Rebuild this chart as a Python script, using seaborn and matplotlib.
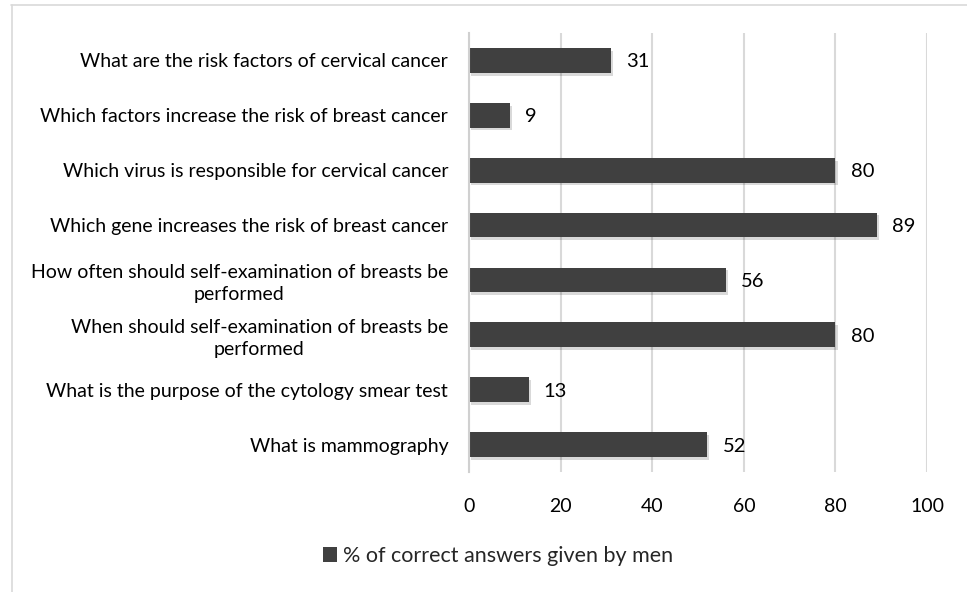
import matplotlib
matplotlib.use("Agg")
import matplotlib.pyplot as plt
import matplotlib.patheffects as pe
from matplotlib.lines import Line2D
from matplotlib.patches import Patch
import seaborn as sns
import pandas as pd

categories = [
    "What are the risk factors of cervical cancer",
    "Which factors increase the risk of breast cancer",
    "Which virus is responsible for cervical cancer",
    "Which gene increases the risk of breast cancer",
    "How often should self-examination of breasts be\nperformed",
    "When should self-examination of breasts be\nperformed",
    "What is the purpose of the cytology smear test",
    "What is mammography",
]
values = [31, 9, 80, 89, 56, 80, 13, 52]
series_name = "% of correct answers given by men"
xticks = [0, 20, 40, 60, 80, 100]

sns.set_theme(style="white")
plt.rcParams["font.family"] = ["Lato", "DejaVu Sans"]

df = pd.DataFrame({"q": categories, "v": values})

fig = plt.figure(figsize=(9.67, 5.92), dpi=100)
ax = fig.add_axes([0.485, 0.2027, 0.9587 - 0.485, 0.9443 - 0.2027])

bar_color = "#404040"
FS = 14
sns.barplot(data=df, x="v", y="q", orient="h", color=bar_color, width=0.45,
            saturation=1, edgecolor="none", linewidth=0, ax=ax)

for p in ax.patches:
    p.set_path_effects([pe.SimplePatchShadow(offset=(1.5, -2), shadow_rgbFace="#000000", alpha=0.15), pe.Normal()])

ax.set_xlim(0, 100)
ax.set_xticks(xticks)
ax.set_xticklabels([str(t) for t in xticks])
ax.set_xlabel("")
ax.set_ylabel("")
ax.xaxis.grid(True, color="#d9d9d9", linewidth=1.5)
ax.set_axisbelow(True)
for s in ["top", "right", "bottom"]:
    ax.spines[s].set_visible(False)
ax.spines["left"].set_color("#d0d0d0")
ax.spines["left"].set_linewidth(1.5)

ax.tick_params(axis="y", length=0, pad=15, labelsize=FS, labelcolor="#000000")
ax.tick_params(axis="x", length=0, pad=18.5, labelsize=FS, labelcolor="#000000")
for lbl in ax.get_yticklabels():
    lbl.set_multialignment("center")
    lbl.set_linespacing(1.3)

texts = ax.bar_label(ax.containers[0], labels=[str(v) for v in values], padding=11,
                     fontsize=FS + 0.5, color="#000000")
for t in texts:
    t.set_va("center_baseline")

handle = Patch(facecolor=bar_color, edgecolor="none")
fig.legend([handle], [series_name], loc="center", bbox_to_anchor=(0.515, 0.061),
           frameon=False, fontsize=15.5, handlelength=0.65, handleheight=0.65,
           handletextpad=0.25)

# Outer chart-area border (top and left edges visible)
fig.add_artist(Line2D([11 / 967, 1.0], [1 - 4.5 / 592, 1 - 4.5 / 592],
                      transform=fig.transFigure, color="#d9d9d9", linewidth=1.2))
fig.add_artist(Line2D([11.5 / 967, 11.5 / 967], [0.0, 1 - 4.5 / 592],
                      transform=fig.transFigure, color="#d9d9d9", linewidth=1.2))

fig.savefig("out.png", dpi=100)
